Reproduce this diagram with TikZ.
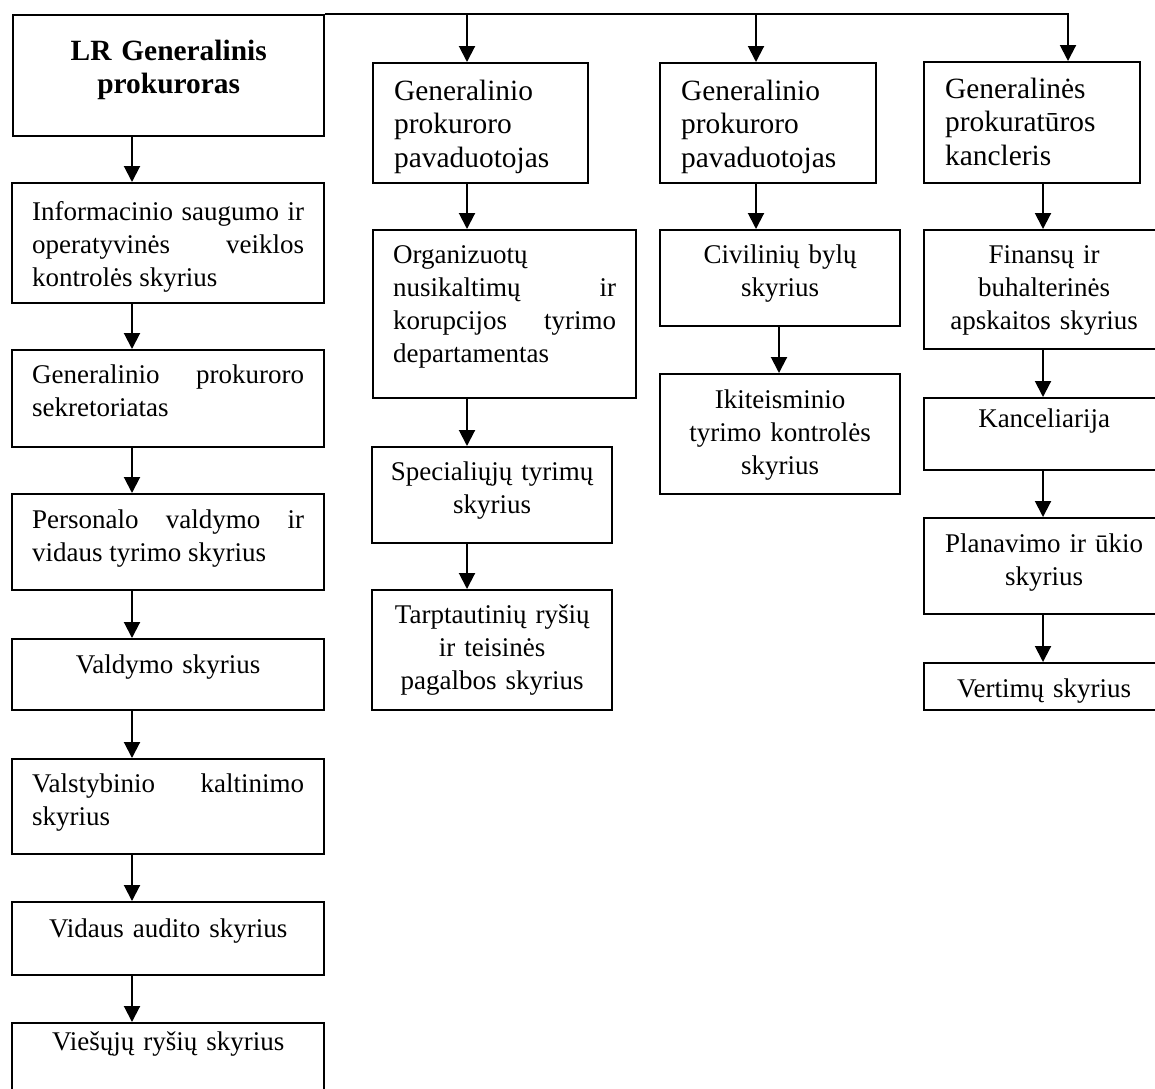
\documentclass[tikz,border=0pt]{standalone}
\usepackage{fontspec}
\setmainfont{Liberation Serif}
\usetikzlibrary{arrows.meta}

\tikzset{
  unit/.style={draw, line width=1.2pt, anchor=north west, inner sep=0pt},
  txt/.style={anchor=base, inner sep=0pt, font=\fontsize{13.5}{16.5}\selectfont},
  txtc/.style={txt, align=center},
  txtl/.style={txt, align=left},
  txtj/.style={txt, align=justify},
  head/.style={font=\fontsize{14.7}{16.8}\selectfont},
}

\begin{document}
\begin{tikzpicture}[x=0.5pt,y=-0.5pt,>={Triangle[length=8pt,width=8pt]},line width=1pt]
\useasboundingbox (0,0) rectangle (1155,1088);

% left column
\node[unit, minimum width=155.5pt, minimum height=60.5pt] (lr) at (12,14) {};
\node[unit, minimum width=156pt, minimum height=60pt] (info) at (11,182) {};
\node[unit, minimum width=156pt, minimum height=48.5pt] (sekr) at (11,349) {};
\node[unit, minimum width=156pt, minimum height=48pt] (pers) at (11,493) {};
\node[unit, minimum width=156pt, minimum height=35.5pt] (vald) at (11,638) {};
\node[unit, minimum width=156pt, minimum height=47.5pt] (valst) at (11,758) {};
\node[unit, minimum width=156pt, minimum height=36.5pt] (vidaus) at (11,901) {};
\node[unit, minimum width=156pt, minimum height=40pt] (viesuju) at (11,1022) {};

\node[txtc, text width=136pt, font=\bfseries\fontsize{14.7}{16.5}\selectfont] (lrt) at ([yshift=-23pt]lr.north) {LR Generalinis\\prokuroras};
\node[txtj, text width=136pt] (infot) at ([yshift=-19pt]info.north) {Informacinio saugumo ir\linebreak operatyvinės veiklos\linebreak kontrolės skyrius};
\node[txtj, text width=136pt] (sekrt) at ([yshift=-17pt]sekr.north) {Generalinio prokuroro\linebreak sekretoriatas};
\node[txtj, text width=136pt] (perst) at ([yshift=-17.5pt]pers.north) {Personalo valdymo ir\linebreak vidaus tyrimo skyrius};
\node[txtc, text width=136pt] (valdt) at ([yshift=-17.5pt]vald.north) {Valdymo skyrius};
\node[txtj, text width=136pt] (valstt) at ([yshift=-17pt]valst.north) {Valstybinio kaltinimo\linebreak skyrius};
\node[txtc, text width=136pt] (vidaust) at ([yshift=-18pt]vidaus.north) {Vidaus audito skyrius};
\node[txtc, text width=136pt] (viesujut) at ([yshift=-14pt]viesuju.north) {Viešųjų ryšių skyrius};

% second column
\node[unit, minimum width=107.5pt, minimum height=60pt] (gp1) at (372,62) {};
\node[unit, minimum width=131.5pt, minimum height=84pt] (org) at (372,229) {};
\node[unit, minimum width=120pt, minimum height=48pt] (spec) at (371,446) {};
\node[unit, minimum width=120pt, minimum height=60pt] (tarp) at (371,589) {};

\node[txtl, head, text width=86.5pt] (gp1t) at ([yshift=-19pt]gp1.north) {Generalinio\\prokuroro\\pavaduotojas};
\node[txtj, text width=111.5pt] (orgt) at ([yshift=-17pt]org.north) {Organizuotų\linebreak nusikaltimų ir\linebreak korupcijos tyrimo\linebreak departamentas};
\node[txtc, text width=114pt] (spect) at ([yshift=-17pt]spec.north) {Specialiųjų tyrimų\\skyrius};
\node[txtc, text width=114pt] (tarpt) at ([yshift=-17pt]tarp.north) {Tarptautinių ryšių\\ir teisinės\\pagalbos skyrius};

% third column
\node[unit, minimum width=108pt, minimum height=60pt] (gp2) at (659,62) {};
\node[unit, minimum width=120pt, minimum height=48pt] (civ) at (659,229) {};
\node[unit, minimum width=120pt, minimum height=60pt] (ikit) at (659,373) {};

\node[txtl, head, text width=87pt] (gp2t) at ([yshift=-19pt]gp2.north) {Generalinio\\prokuroro\\pavaduotojas};
\node[txtc, text width=114pt] (civt) at ([yshift=-17pt]civ.north) {Civilinių bylų\\skyrius};
\node[txtc, text width=114pt] (ikitt) at ([yshift=-17.5pt]ikit.north) {Ikiteisminio\\tyrimo kontrolės\\skyrius};

% right column
\node[unit, minimum width=108pt, minimum height=60.5pt] (kanc) at (923,61) {};
\node[unit, minimum width=120pt, minimum height=59.5pt] (fin) at (923,229) {};
\node[unit, minimum width=120pt, minimum height=36pt] (kanclr) at (923,397) {};
\node[unit, minimum width=120pt, minimum height=48pt] (plan) at (923,517) {};
\node[unit, minimum width=120pt, minimum height=23.5pt] (vert) at (923,662) {};

\node[txtl, head, text width=87pt] (kanct) at ([yshift=-18.5pt]kanc.north) {Generalinės\\prokuratūros\\kancleris};
\node[txtc, text width=114pt] (fint) at ([yshift=-17pt]fin.north) {Finansų ir\\buhalterinės\\apskaitos skyrius};
\node[txtc, text width=114pt] (kanclrt) at ([yshift=-15pt]kanclr.north) {Kanceliarija};
\node[txtc, text width=114pt] (plant) at ([yshift=-17.5pt]plan.north) {Planavimo ir ūkio\\skyrius};
\node[txtc, text width=114pt] (vertt) at ([yshift=-17.5pt]vert.north) {Vertimų skyrius};

% arrows
\coordinate (colA) at (132,0);
\coordinate (colB) at (467,14);
\coordinate (colC) at (756,14);
\coordinate (colC2) at (779,0);
\coordinate (colD) at (1068,14);
\coordinate (colD2) at (1043,0);

\draw[->] (lr.north east) -- (colD) -- (colD |- kanc.north);
\draw[->] (colB) -- (colB |- gp1.north);
\draw[->] (colC) -- (colC |- gp2.north);
\foreach \a/\b in {lr/info,info/sekr,sekr/pers,pers/vald,vald/valst,valst/vidaus,vidaus/viesuju}
  \draw[->] (\a.south -| colA) -- (\b.north -| colA);
\foreach \a/\b in {gp1/org,org/spec,spec/tarp}
  \draw[->] (\a.south -| colB) -- (\b.north -| colB);
\draw[->] (gp2.south -| colC) -- (civ.north -| colC);
\draw[->] (civ.south -| colC2) -- (ikit.north -| colC2);
\foreach \a/\b in {kanc/fin,fin/kanclr,kanclr/plan,plan/vert}
  \draw[->] (\a.south -| colD2) -- (\b.north -| colD2);
\end{tikzpicture}
\end{document}
